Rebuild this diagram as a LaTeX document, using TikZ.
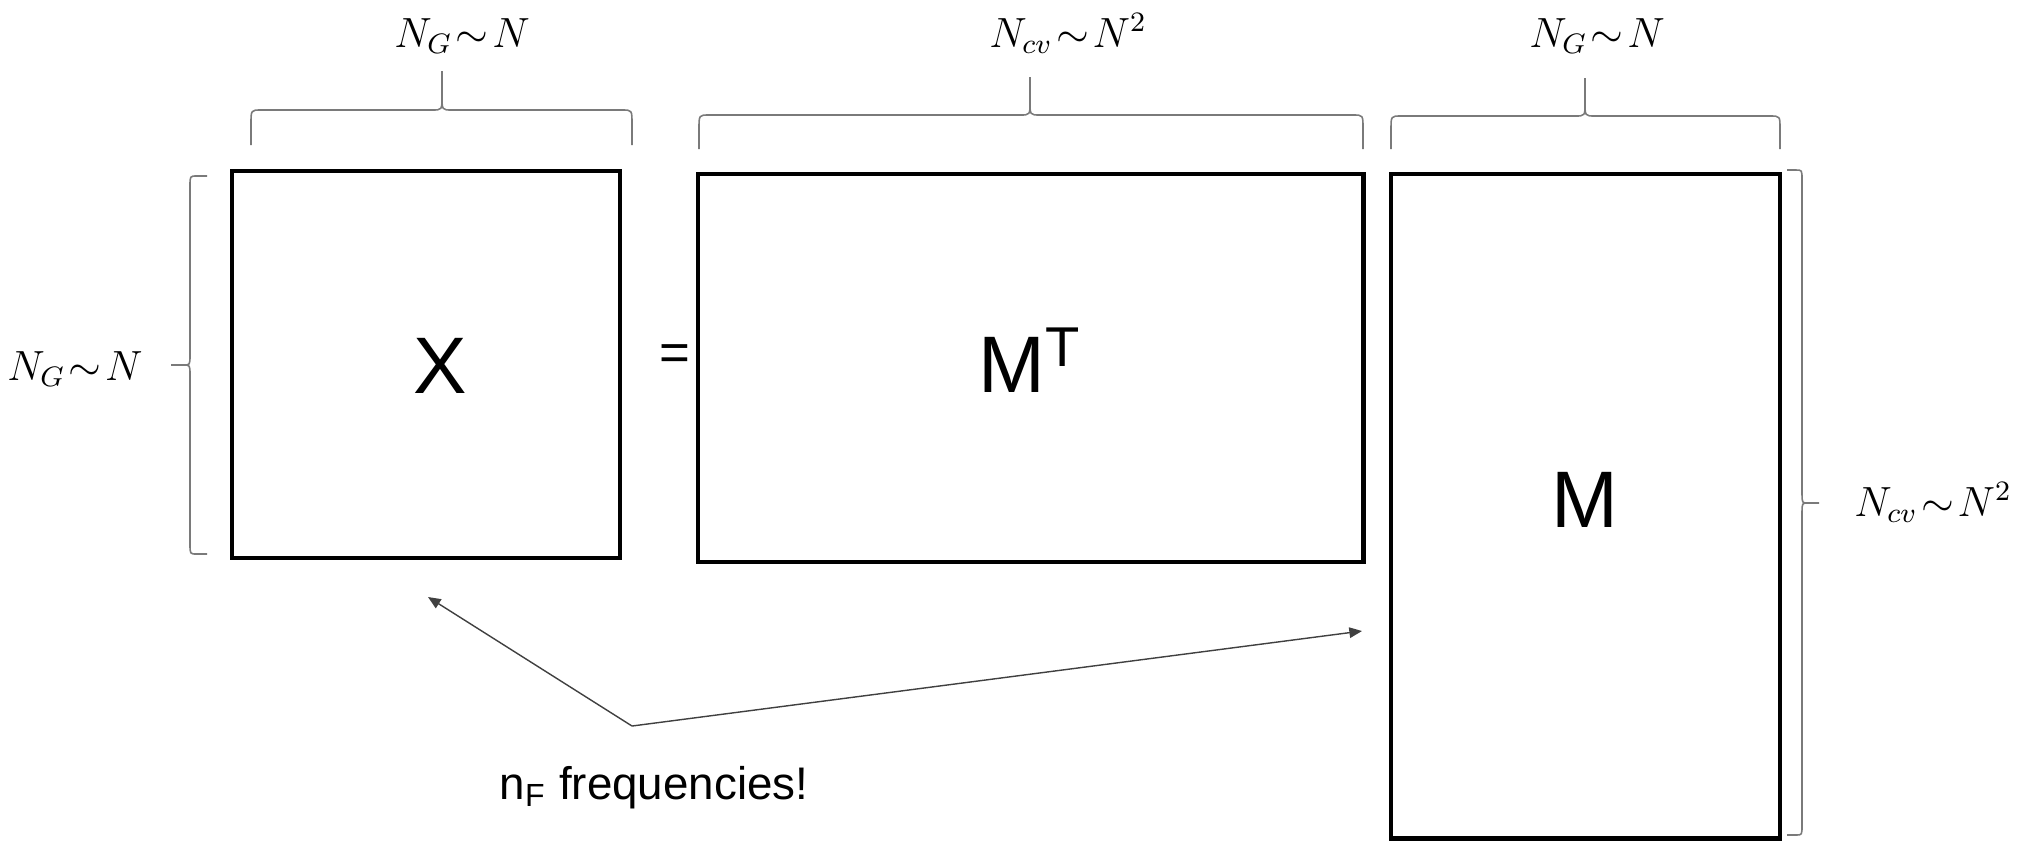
\documentclass[tikz,border=0pt]{standalone}
\usepackage{fontspec}
\setmainfont{Liberation Sans}
\usetikzlibrary{arrows.meta}
\definecolor{bracegray}{HTML}{7A7A7A}
\definecolor{arrowgray}{HTML}{404040}
\newcommand{\topbrace}[6]{% x1 x2 xm yend yline ytip
  \draw[brc] (#1,#4) -- (#1,{#5+0.4*(#4-#5)}) .. controls (#1,#5) and (#1,#5) .. ({#1+10},#5)
    -- ({#3-10},#5) .. controls (#3,#5) and (#3,#5) .. (#3,{#5+0.35*(#6-#5)}) -- (#3,#6)
    (#3,{#5+0.35*(#6-#5)}) .. controls (#3,#5) and (#3,#5) .. ({#3+10},#5)
    -- ({#2-10},#5) .. controls (#2,#5) and (#2,#5) .. (#2,{#5+0.4*(#4-#5)}) -- (#2,#4);}
\newcommand{\sidebrace}[6]{% y1 y2 ym xend xline xtip
  \draw[brc] (#4,#1) -- ({#5+0.4*(#4-#5)},#1) .. controls (#5,#1) and (#5,#1) .. (#5,{#1+10})
    -- (#5,{#3-10}) .. controls (#5,#3) and (#5,#3) .. ({#5+0.35*(#6-#5)},#3) -- (#6,#3)
    ({#5+0.35*(#6-#5)},#3) .. controls (#5,#3) and (#5,#3) .. (#5,{#3+10})
    -- (#5,{#2-10}) .. controls (#5,#2) and (#5,#2) .. ({#5+0.4*(#4-#5)},#2) -- (#4,#2);}
\newcommand{\tsim}{\mkern1.5mu{\sim}\mkern1.5mu}
\begin{document}
\begin{tikzpicture}[x=0.01cm,y=-0.01cm,
  mat/.style={draw=black, line width=1.3pt, inner sep=0pt},
  big/.style={font=\fontsize{22.8}{26}\selectfont, inner sep=0pt},
  eqs/.style={font=\fontsize{15}{18}\selectfont, inner sep=0pt},
  lbl/.style={font=\fontsize{11.6}{13}\selectfont, inner sep=0pt, anchor=base},
  note/.style={font=\fontsize{13}{15}\selectfont, inner sep=0pt},
  brc/.style={draw=bracegray, line width=0.45pt},
  arr/.style={draw=arrowgray, line width=0.4pt, -{Triangle[length=3.6pt,width=3pt]}}]
\useasboundingbox (0,0) rectangle (2031,841);
% matrices
\node[mat, minimum width=3.88cm, minimum height=3.87cm] (X) at (426,364.5) {};
\node[mat, minimum width=6.65cm, minimum height=3.88cm] (MT) at (1030.5,368) {};
\node[mat, minimum width=3.89cm, minimum height=6.64cm] (M) at (1585.5,506) {};
% matrix names
\node[big] (Xt) at (440,366) {X};
\node[big] (MTt) at (1030,360) {M\textsuperscript{T}};
\node[big] (Mt) at (1585,500) {M};
\node[eqs] (eq) at (675,358) {=};
% braces
\topbrace{251}{632}{442}{145}{110}{71}
\topbrace{699}{1363}{1030}{149}{115}{77}
\topbrace{1391}{1780}{1585}{149}{116}{78}
\sidebrace{176}{554}{365}{207}{190}{171}
\sidebrace{170}{835}{503}{1787}{1802}{1819}
% dimension labels
\node[lbl] (l1) at (462,47) {$N_G\tsim N$};
\node[lbl] (l2) at (1068,47) {$N_{cv}\tsim N^2$};
\node[lbl] (l3) at (1597,47) {$N_G\tsim N$};
\node[lbl] (l4) at (75,380) {$N_G\tsim N$};
\node[lbl] (l5) at (1933,516) {$N_{cv}\tsim N^2$};
% arrows
\coordinate (v) at (632,726);
\coordinate (t1) at (428,597);
\coordinate (t2) at (1362,631);
\draw[arr] (v) -- (t1);
\draw[arr] (v) -- (t2);
\node[note, anchor=base west] (nf) at (499,799) {n\textsubscript{F} frequencies!};
\end{tikzpicture}
\end{document}
